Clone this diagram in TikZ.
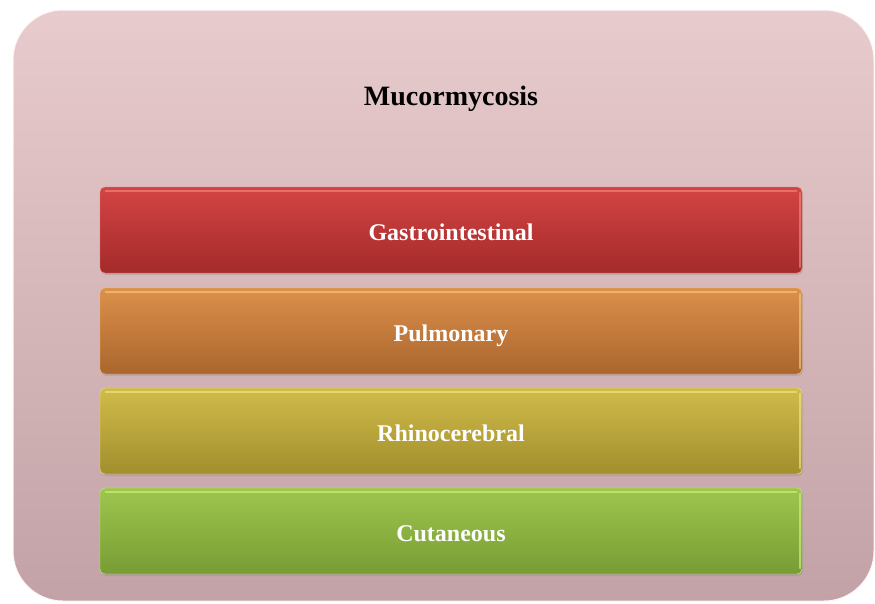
\documentclass[tikz,border=0pt]{standalone}
\usepackage{fontspec}
\setmainfont{Liberation Serif}
\usetikzlibrary{shadows}
\begin{document}
\begin{tikzpicture}[x=1pt,y=-1pt,
  band/.style={rounded corners=5pt, minimum width=702pt, minimum height=86pt,
    font=\bfseries\fontsize{24}{28}\selectfont, text=white, inner sep=0pt,
    text height=20pt, text depth=0pt,
    drop shadow={opacity=0.25, shadow xshift=1pt, shadow yshift=-2pt}},
  gloss/.style={line width=2.5pt, line cap=round, opacity=0.7},
]
\useasboundingbox (0,0) rectangle (875,603);
\definecolor{outtop}{HTML}{E8CBCD}
\definecolor{outbot}{HTML}{C2A2A6}
\shade[rounded corners=50pt, top color=outtop, bottom color=outbot, draw=white!85!pink, line width=1pt]
  (13,10) rectangle (874,601);
\node[font=\bfseries\fontsize{28}{32}\selectfont, anchor=base] (title) at (451,105) {Mucormycosis};
\node[band, top color={rgb,255:red,212;green,68;blue,68}, bottom color={rgb,255:red,164;green,42;blue,42}, draw={rgb,255:red,230;green,120;blue,110}] (g) at (451,230) {Gastrointestinal};
\node[band, top color={rgb,255:red,220;green,144;blue,74}, bottom color={rgb,255:red,170;green,102;blue,46}, draw={rgb,255:red,240;green,180;blue,110}] (p) at (451,331) {Pulmonary};
\node[band, top color={rgb,255:red,208;green,188;blue,74}, bottom color={rgb,255:red,162;green,142;blue,44}, draw={rgb,255:red,236;green,226;blue,130}] (r) at (451,431) {Rhinocerebral};
\node[band, top color={rgb,255:red,158;green,198;blue,78}, bottom color={rgb,255:red,120;green,156;blue,52}, draw={rgb,255:red,200;green,236;blue,130}] (c) at (451,531) {Cutaneous};
\foreach \n/\c in {g/{rgb,255:red,240;green,130;blue,120}, p/{rgb,255:red,246;green,196;blue,120}, r/{rgb,255:red,238;green,228;blue,130}, c/{rgb,255:red,204;green,240;blue,120}}{
  \draw[gloss, draw=\c] ([xshift=6pt, yshift=-4pt]\n.north west) -- ([xshift=-6pt, yshift=-4pt]\n.north east);
  \draw[gloss, draw=\c, line width=2pt] ([xshift=-2pt, yshift=-6pt]\n.north east) -- ([xshift=-2pt, yshift=6pt]\n.south east);
}
\end{tikzpicture}
\end{document}
